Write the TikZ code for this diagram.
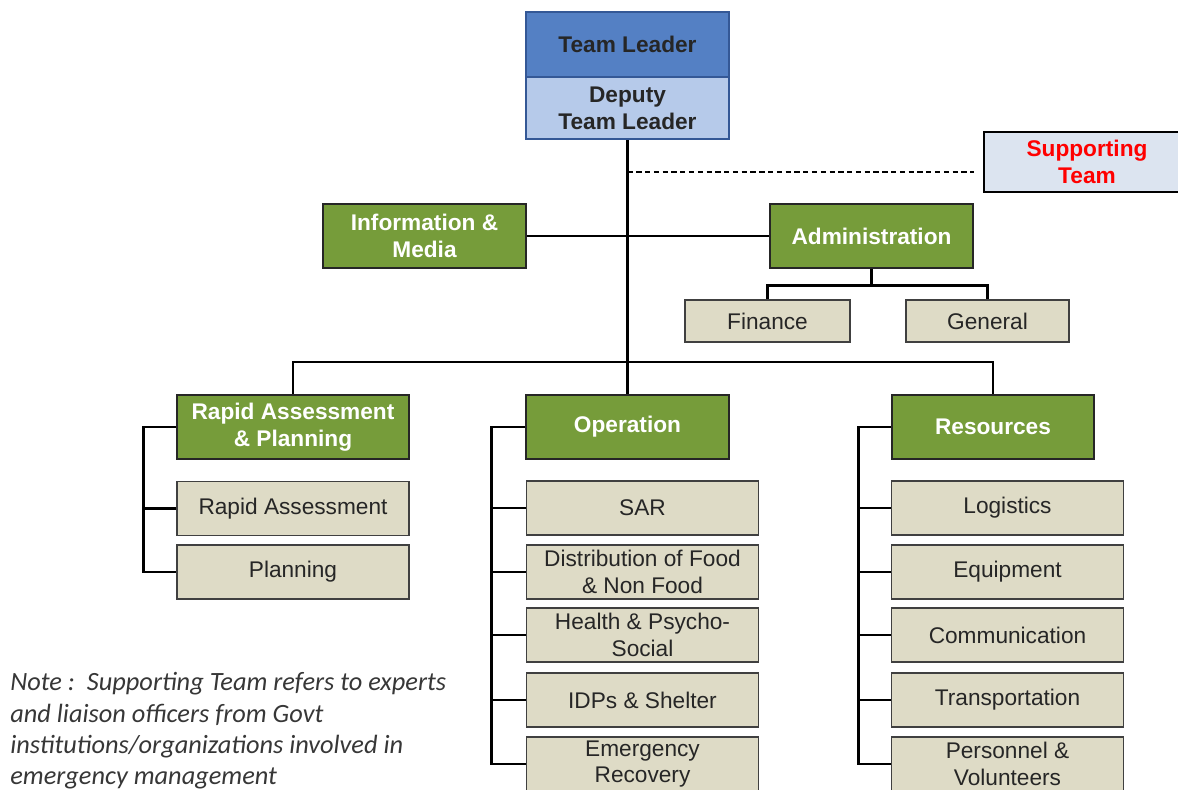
\documentclass[tikz,border=0pt]{standalone}
\usepackage{fontspec}
\setmainfont{Liberation Sans}
\newfontfamily\notefont{Carlito}
\definecolor{leadtop}{RGB}{84,128,196}
\definecolor{leadlow}{RGB}{182,202,234}
\definecolor{leadline}{RGB}{52,88,150}
\definecolor{unitgreen}{RGB}{118,156,58}
\definecolor{subtan}{RGB}{222,219,198}
\definecolor{supfill}{RGB}{220,228,240}
\definecolor{notegray}{RGB}{55,55,55}
\tikzset{
  lead/.style={draw=leadline, line width=1.2pt, text=black!85, font=\fontsize{12.9}{15.3}\selectfont\bfseries, minimum width=4.06cm, align=center, inner sep=0pt},
  unit/.style={draw=black!85, fill=unitgreen, line width=1.5pt, text=white, font=\fontsize{12.9}{15.3}\selectfont\bfseries, minimum width=4.06cm, minimum height=1.28cm, align=center, inner sep=0pt},
  subunit/.style={draw=black!75, fill=subtan, line width=0.9pt, text=black!85, font=\fontsize{12.9}{15.3}\selectfont, minimum width=4.64cm, minimum height=1.08cm, align=center, inner sep=0pt},
  link/.style={line width=1.4pt}
}

\begin{document}
\begin{tikzpicture}[x=0.02cm, y=-0.02cm]
			\clip (0, 0) rectangle (1178, 789);
			\fill [white] (0, 0) rectangle (1178, 789);

			\node [lead, fill=leadtop, minimum height=1.3cm] (tl) at (627.5, 44.5) {Team Leader};
			\node [lead, fill=leadlow, minimum height=1.24cm] (dtl) at (627.5, 108) {Deputy\\Team Leader};
			\node [draw=black, fill=supfill, line width=1.5pt, text=red, font=\fontsize{12.9}{15.3}\selectfont\bfseries, minimum width=4.12cm, minimum height=1.2cm, align=center, inner sep=0pt] (sup) at (1087, 162) {Supporting\\Team};

			\node [unit] (info) at (424.5, 236) {Information \&\\Media};
			\node [unit] (admin) at (871.5, 236) {Administration};
			\node [subunit, minimum width=3.3cm, minimum height=0.84cm] (fin) at (767.5, 321) {Finance};
			\node [subunit, minimum width=3.26cm, minimum height=0.84cm] (gen) at (987.5, 321) {General};

			\node [unit, minimum width=4.64cm] (rap) at (293, 427) {Rapid Assessment\\\& Planning};
			\node [unit] (op) at (627.5, 427) {Operation};
			\node [unit, minimum width=4.04cm] (res) at (993, 427) {Resources};

			\node [subunit] (ra) at (293, 508.5) {Rapid Assessment};
			\node [subunit] (pl) at (293, 572) {Planning};

			\node [subunit] (sar) at (642.5, 508) {SAR};
			\node [subunit] (dist) at (642.5, 572) {Distribution of Food\\\& Non Food};
			\node [subunit] (hps) at (642.5, 635) {Health \& Psycho-\\Social};
			\node [subunit] (idp) at (642.5, 700) {IDPs \& Shelter};
			\node [subunit] (erec) at (642.5, 764) {Emergency\\Recovery};

			\node [subunit] (log) at (1007.5, 508) {Logistics};
			\node [subunit] (equ) at (1007.5, 572) {Equipment};
			\node [subunit] (com) at (1007.5, 635) {Communication};
			\node [subunit] (tra) at (1007.5, 700) {Transportation};
			\node [subunit] (per) at (1007.5, 764) {Personnel \&\\Volunteers};

			\node [anchor=north west, align=left, text=notegray, font=\notefont\itshape\fontsize{15}{17.9}\selectfont, inner sep=0pt] (note) at (10, 672) {Note :\ \ Supporting Team refers to experts\\and liaison officers from Govt\\institutions/organizations involved in\\emergency management};

			\coordinate (bar) at (629, 362);
			\coordinate (supin) at ([yshift=-0.2cm]sup.west);
			\draw [link] (dtl.south) -- (op.north);
			\draw [line width=0.9pt, dash pattern=on 3pt off 2pt, shorten >=0.18cm] (dtl.south |- supin) -- (supin);
			\draw [link] (info.east) -- (admin.west);
			\draw [link] (admin.south) -- ++(0, 16) coordinate (adm) -| (fin.north);
			\draw [link] (adm) -| (gen.north);
			\draw [link] (rap.north) |- (bar) -| (res.north);

			\draw [link] (rap.west) -- ++(-32, 0) coordinate (rapb) |- (ra.west);
			\draw [link] (rapb) |- (pl.west);
			\draw [link] (op.west) -- ++(-33, 0) coordinate (opb) |- (sar.west);
			\foreach \n in {dist, hps, idp, erec}
				\draw [link] (opb) |- (\n.west);
			\draw [link] (res.west) -- ++(-32, 0) coordinate (resb) |- (log.west);
			\foreach \n in {equ, com, tra, per}
				\draw [link] (resb) |- (\n.west);
		\end{tikzpicture}
\end{document}
